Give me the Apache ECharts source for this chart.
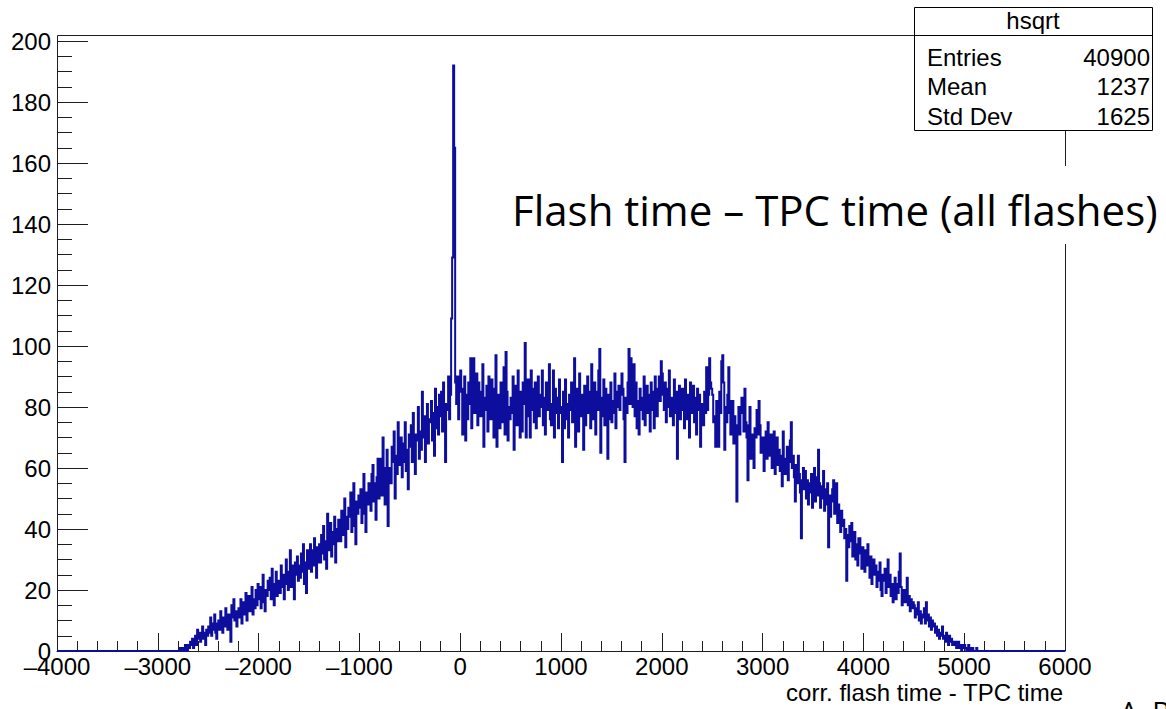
<!DOCTYPE html>
<html><head><meta charset="utf-8">
<script src="https://cdn.jsdelivr.net/npm/echarts@6/dist/echarts.min.js"></script>
<style>html,body{margin:0;padding:0;background:#fff}#c{width:1166px;height:709px}</style>
</head><body><div id="c"></div>
<script>
// ---- histogram definition (hsqrt): 1000 bins of width 10 from -4000 to 6000 ----
const BIN_WIDTH = 10;
const X_MIN = -4000;
const X_MAX = 6000;

// bin contents; bins outside the listed ranges are empty
const counts_m2800 = [ // bins -2800 .. -2010
  0,0,1,0,0,1,0,2,1,0,
  2,1,3,2,4,1,3,5,2,7,
  4,6,3,5,8,4,6,2,7,5,
  8,6,11,5,9,7,12,6,4,9,
  10,7,13,9,6,11,8,14,10,7,
  12,9,3,15,11,17,10,13,8,12,
  14,11,17,9,13,16,12,19,10,15,
  18,13,16,21,12,17,14,20,15,22
];
const counts_m2000 = [ // bins -2000 .. -1010
  17,21,14,19,25,16,13,20,18,23,
  20,24,17,27,19,15,22,26,18,21,
  23,19,28,21,25,17,24,30,22,20,
  26,33,21,28,24,17,29,25,31,23,
  28,24,32,26,35,22,29,19,33,27,
  30,35,26,33,28,37,31,24,34,29,
  35,29,38,32,41,30,36,27,45,33,
  37,42,31,39,35,44,29,40,36,43,
  41,36,46,38,43,50,34,44,40,47,
  44,52,39,47,55,41,35,49,45,51
];
const counts_m1000 = [ // bins -1000 .. -10
  47,53,42,50,58,45,39,52,48,55,
  52,46,58,61,49,55,43,57,63,50,
  56,63,51,70,54,48,60,66,41,58,
  60,55,67,62,72,50,64,58,75,61,
  64,70,57,68,62,75,59,66,53,71,
  67,74,62,78,65,58,71,69,80,63,
  72,66,85,70,77,62,74,81,68,76,
  75,82,69,78,64,86,73,80,71,84,
  77,85,72,88,74,62,81,79,90,76,
  84,109,129,192,165,88,81,90,76,85
];
const counts_0 = [ // bins 0 .. 990
  92,86,71,79,90,69,84,76,88,81,
  96,73,85,96,78,82,91,74,88,80,
  77,85,94,67,83,79,87,72,90,84,
  76,89,81,70,86,97,67,79,84,73,
  88,75,82,93,71,98,85,69,80,76,
  83,78,90,66,81,87,74,92,79,70,
  85,72,88,81,101,70,77,89,84,70,
  92,79,86,75,88,73,81,90,77,84,
  80,92,74,83,71,88,79,85,94,76,
  74,81,92,70,86,78,83,73,89,80
];
const counts_1000 = [ // bins 1000 .. 1990
  78,62,85,73,89,76,81,70,84,79,
  88,75,83,96,67,80,86,72,91,77,
  84,79,66,87,74,83,90,78,85,73,
  94,80,76,88,71,85,79,92,99,65,
  83,77,89,74,86,80,63,84,76,88,
  75,82,78,91,73,85,80,87,79,84,
  91,86,76,62,83,78,88,99,81,96,
  85,80,94,77,88,73,82,71,86,79,
  83,76,90,74,81,87,78,84,72,88,
  79,85,73,90,80,77,86,90,82,95
];
const counts_2000 = [ // bins 2000 .. 2990
  91,84,79,88,75,86,80,92,77,83,
  81,74,89,78,85,63,80,87,76,82,
  86,79,73,89,81,76,84,70,88,78,
  80,87,75,83,71,86,79,84,67,81,
  80,74,85,78,93,79,84,96,88,86,
  84,75,77,67,82,79,67,85,78,95,
  97,88,66,80,75,84,93,78,71,82,
  82,68,77,72,49,74,80,71,78,83,
  78,72,86,75,70,56,74,80,63,71,
  66,60,73,70,79,71,82,74,65,68
];
const counts_3000 = [ // bins 3000 .. 3990
  70,59,66,72,63,75,68,64,71,60,
  67,72,58,65,70,61,66,59,64,54,
  72,63,58,61,67,56,62,69,75,60,
  64,57,49,61,55,64,58,52,37,56,
  60,53,59,50,56,48,55,52,58,47,
  54,60,49,57,51,66,55,47,54,50,
  59,46,53,48,55,34,51,44,49,53,
  56,45,50,55,42,48,45,39,46,41,
  43,37,40,23,38,34,41,36,42,31,
  35,39,30,35,28,37,37,32,27,34
];
const counts_4000 = [ // bins 4000 .. 4990
  30,26,33,28,35,29,24,31,22,27,
  30,25,28,21,26,23,29,20,18,25,
  23,27,19,24,30,21,25,18,22,16,
  20,24,17,22,19,26,32,21,15,18,
  20,16,19,24,15,18,13,17,14,16,
  15,11,14,12,16,10,13,9,12,11,
  14,9,16,10,12,8,11,7,10,8,
  9,6,8,5,7,4,6,5,8,4,
  5,3,6,4,2,5,3,4,2,3,
  2,3,1,2,3,1,2,0,2,1
];
const counts_5000 = [ // bins 5000 .. 5190
  2,1,0,1,2,0,1,0,1,0,
  0,0,1,0,0,0,0,0,0,0
];
const segments = [
  [-2800, counts_m2800], [-2000, counts_m2000], [-1000, counts_m1000],
  [0, counts_0], [1000, counts_1000], [2000, counts_2000],
  [3000, counts_3000], [4000, counts_4000], [5000, counts_5000]
];

const statsTitle = 'hsqrt';
const statsRows = [['Entries', '40900'], ['Mean', '1237'], ['Std Dev', '1625']];
const overlayTitle = 'Flash time \u2013 TPC time (all flashes)';
const xTitle = 'corr. flash time - TPC time';
const authorText = 'A. B';

// ---- build bin table ----
const binMap = new Map();
segments.forEach(([start, arr]) => arr.forEach((v, i) => binMap.set(start + i * BIN_WIDTH, v)));
const histData = [];
for (let x = X_MIN; x < X_MAX; x += BIN_WIDTH) histData.push([x, binMap.get(x) || 0]);
histData.push([X_MAX, histData[histData.length - 1][1]]);

// ---- layout ----
const W = 1166, H = 709;
const GRID = {left: 57, right: 101, top: 41, bottom: 58};
const frameL = GRID.left + 0.5, frameR = W - GRID.right + 0.5, frameT = 35.5, frameB = H - GRID.bottom;
const AX = '#1e1e1e';
const SANS = '"Liberation Sans", Arial, Helvetica, sans-serif';

const chart = echarts.init(document.getElementById('c'), null, {renderer: 'svg', width: W, height: H});
chart.setOption({
  animation: false,
  backgroundColor: '#ffffff',
  grid: Object.assign({containLabel: false, outerBoundsMode: 'none'}, GRID),
  xAxis: {
    type: 'value', min: X_MIN, max: X_MAX, interval: 1000,
    axisLine: {show: true, onZero: false, lineStyle: {color: AX, width: 1}},
    axisTick: {show: true, inside: true, length: 18, lineStyle: {color: AX}},
    minorTick: {show: true, splitNumber: 5, length: 10, lineStyle: {color: AX}},
    splitLine: {show: false}, minorSplitLine: {show: false},
    axisLabel: {fontFamily: SANS, fontSize: 24, lineHeight: 22, color: '#000', margin: 4,
      formatter: v => String(v).replace('-', '\u2013')}
  },
  yAxis: {
    type: 'value', min: 0, max: 200, interval: 20,
    axisLine: {show: true, onZero: false, lineStyle: {color: AX, width: 1}},
    axisTick: {show: true, inside: true, length: 31, lineStyle: {color: AX}},
    minorTick: {show: true, splitNumber: 4, length: 15, lineStyle: {color: AX}},
    splitLine: {show: false}, minorSplitLine: {show: false},
    axisLabel: {fontFamily: SANS, fontSize: 24, lineHeight: 22, color: '#000', margin: 6}
  },
  series: [{
    type: 'line', step: 'end', data: histData, symbol: 'none', showSymbol: false,
    clip: false, z: 5,
    lineStyle: {color: '#0e0e9e', width: 2, join: 'miter'}
  }],
  graphic: [
    {type: 'polyline', z: 1, silent: true,
     shape: {points: [[frameL, GRID.top], [frameL, frameT], [frameR, frameT], [frameR, frameB]]},
     style: {stroke: AX, lineWidth: 1, fill: null}},
    // x-axis title (ROOT style: right aligned under the axis)
    {type: 'text', z: 21, silent: true, x: 1063, y: 692,
     style: {text: xTitle, font: '24px ' + SANS, fill: '#000', textAlign: 'right', textVerticalAlign: 'middle'}},
    // overlay slide title with white backing
    {type: 'rect', z: 20, silent: true, shape: {x: 500, y: 166, width: 666, height: 78}, style: {fill: '#fff'}},
    {type: 'text', z: 21, silent: true, x: 512, y: 209,
     style: {text: overlayTitle, font: '42px "Open Sans", sans-serif', fill: '#000', textAlign: 'left', textVerticalAlign: 'middle'}},
    // stats box
    {type: 'rect', z: 20, silent: true, shape: {x: 914.5, y: 7.5, width: 238, height: 123},
     style: {fill: '#fff', stroke: '#000', lineWidth: 1}},
    {type: 'line', z: 21, silent: true, shape: {x1: 914.5, y1: 35.5, x2: 1152.5, y2: 35.5}, style: {stroke: '#000', lineWidth: 1}},
    {type: 'text', z: 21, silent: true, x: 1033, y: 20,
     style: {text: statsTitle, font: '24px ' + SANS, fill: '#000', textAlign: 'center', textVerticalAlign: 'middle'}},
    ...statsRows.flatMap((r, i) => [
      {type: 'text', z: 21, silent: true, x: 927, y: 57 + i * 29.5,
       style: {text: r[0], font: '24px ' + SANS, fill: '#000', textAlign: 'left', textVerticalAlign: 'middle'}},
      {type: 'text', z: 21, silent: true, x: 1150, y: 57 + i * 29.5,
       style: {text: r[1], font: '24px ' + SANS, fill: '#000', textAlign: 'right', textVerticalAlign: 'middle'}}
    ]),
    {type: 'text', z: 21, silent: true, x: 1120, y: 697,
     style: {text: authorText, font: '28px "Open Sans", sans-serif', fill: '#000', textAlign: 'left', textVerticalAlign: 'top'}}
  ]
});
</script>
</body></html>
